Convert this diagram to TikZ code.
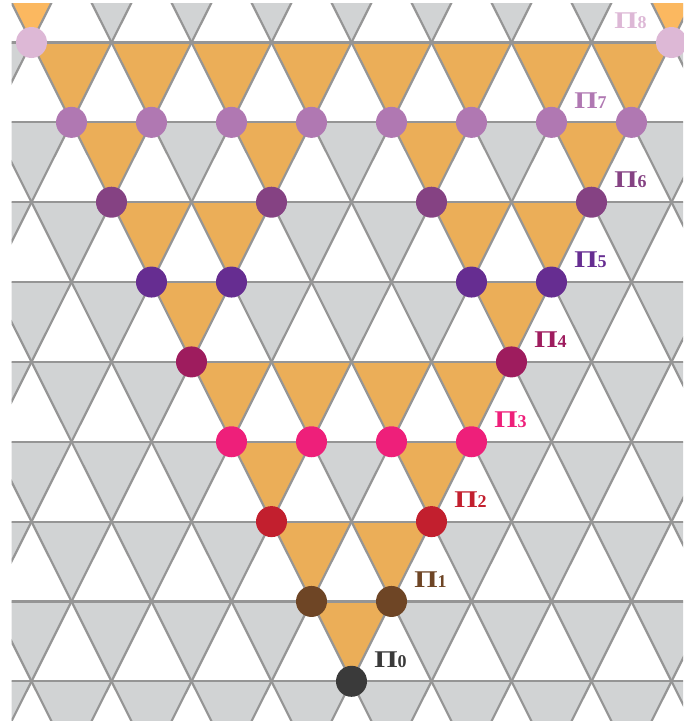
\documentclass[tikz,border=0pt]{standalone}
\usepackage{graphicx}
\usepackage{fontspec}
\setmainfont{Liberation Serif}
\definecolor{cz}{HTML}{3A3A3A}
\definecolor{ca}{HTML}{6E4525}
\definecolor{cb}{HTML}{C21F2E}
\definecolor{cc}{HTML}{EE1F7A}
\definecolor{cd}{HTML}{9E1C5E}
\definecolor{ce}{HTML}{662D91}
\definecolor{cf}{HTML}{854283}
\definecolor{cg}{HTML}{B078B2}
\definecolor{ch}{HTML}{DDB8D6}
\definecolor{orangefill}{HTML}{EBAE58}
\definecolor{orangelight}{HTML}{FBB860}
\definecolor{grayfill}{HTML}{D1D3D4}
\definecolor{linegray}{HTML}{959595}
\begin{document}
\begin{tikzpicture}[x=1pt,y=-1pt,
  lat/.style={draw=linegray,line width=2.2pt},
  dot/.style={circle,inner sep=0pt,minimum size=31pt},
  lab/.style={font=\bfseries,inner sep=0pt}]
\def\H{79.85}
\useasboundingbox (0,0) rectangle (683,723);
\begin{scope}
\clip (11.5,3) rectangle (683,720);
% gray down triangles
\foreach \r in {-1,...,8}{
  \pgfmathsetmacro{\ya}{42.5+\H*\r}
  \pgfmathsetmacro{\yb}{\ya+\H}
  \pgfmathsetmacro{\off}{isodd(\r) ? -8.5 : 31.5}
  \foreach \k in {-1,...,8}{
    \pgfmathsetmacro{\xa}{\off+80*\k}
    \fill[grayfill] (\xa,\ya) -- ({\xa+80},\ya) -- ({\xa+40},\yb) -- cycle;
  }
}
% orange down triangles
\foreach \r/\xl/\col in {
  -1/{-8.5,631.5}/orangelight,
  0/{31.5,111.5,191.5,271.5,351.5,431.5,511.5,591.5}/orangefill,
  1/{71.5,231.5,391.5,551.5}/orangefill,
  2/{111.5,191.5,431.5,511.5}/orangefill,
  3/{151.5,471.5}/orangefill,
  4/{191.5,271.5,351.5,431.5}/orangefill,
  5/{231.5,391.5}/orangefill,
  6/{271.5,351.5}/orangefill,
  7/{311.5}/orangefill}{
  \pgfmathsetmacro{\ya}{42.5+\H*\r}
  \pgfmathsetmacro{\yb}{\ya+\H}
  \foreach \xa in \xl{
    \fill[\col] (\xa,\ya) -- ({\xa+80},\ya) -- ({\xa+40},\yb) -- cycle;
  }
}
% lattice lines
\foreach \r in {-1,...,9}{
  \draw[lat] (0,{42.5+\H*\r}) -- (700,{42.5+\H*\r});
}
\foreach \k in {-6,...,14}{
  \draw[lat] ({-8.5+80*\k},{42.5-\H}) -- ({-408.5+80*\k},{42.5+9*\H});
  \draw[lat] ({-8.5+80*\k},{42.5-\H}) -- ({391.5+80*\k},{42.5+9*\H});
}
\end{scope}
% dots
\foreach \r/\xl/\col/\nm in {
  0/{31.5,671.5}/ch/h,
  1/{71.5,151.5,231.5,311.5,391.5,471.5,551.5,631.5}/cg/g,
  2/{111.5,271.5,431.5,591.5}/cf/f,
  3/{151.5,231.5,471.5,551.5}/ce/e,
  4/{191.5,511.5}/cd/d,
  5/{231.5,311.5,391.5,471.5}/cc/c,
  6/{271.5,431.5}/cb/b,
  7/{311.5,391.5}/ca/a,
  8/{351.5}/cz/z}{
  \foreach \xa [count=\i] in \xl{
    \node[dot,fill=\col] (dot\nm\i) at (\xa,{42.5+\H*\r}) {};
  }
}
% labels
\foreach \r/\xa/\col/\d in {
  0/591.5/ch/8, 1/551.5/cg/7, 2/591.5/cf/6, 3/551.5/ce/5, 4/511.5/cd/4,
  5/471.5/cc/3, 6/431.5/cb/2, 7/391.5/ca/1, 8/351.5/cz/0}{
  \node[lab,text=\col] (lab\d) at ({\xa+39},{42.5+\H*\r-22})
    {\fontsize{24}{24}\selectfont\scalebox{1.25}[1]{Π}\fontsize{18}{18}\selectfont\d};
}
\end{tikzpicture}
\end{document}
